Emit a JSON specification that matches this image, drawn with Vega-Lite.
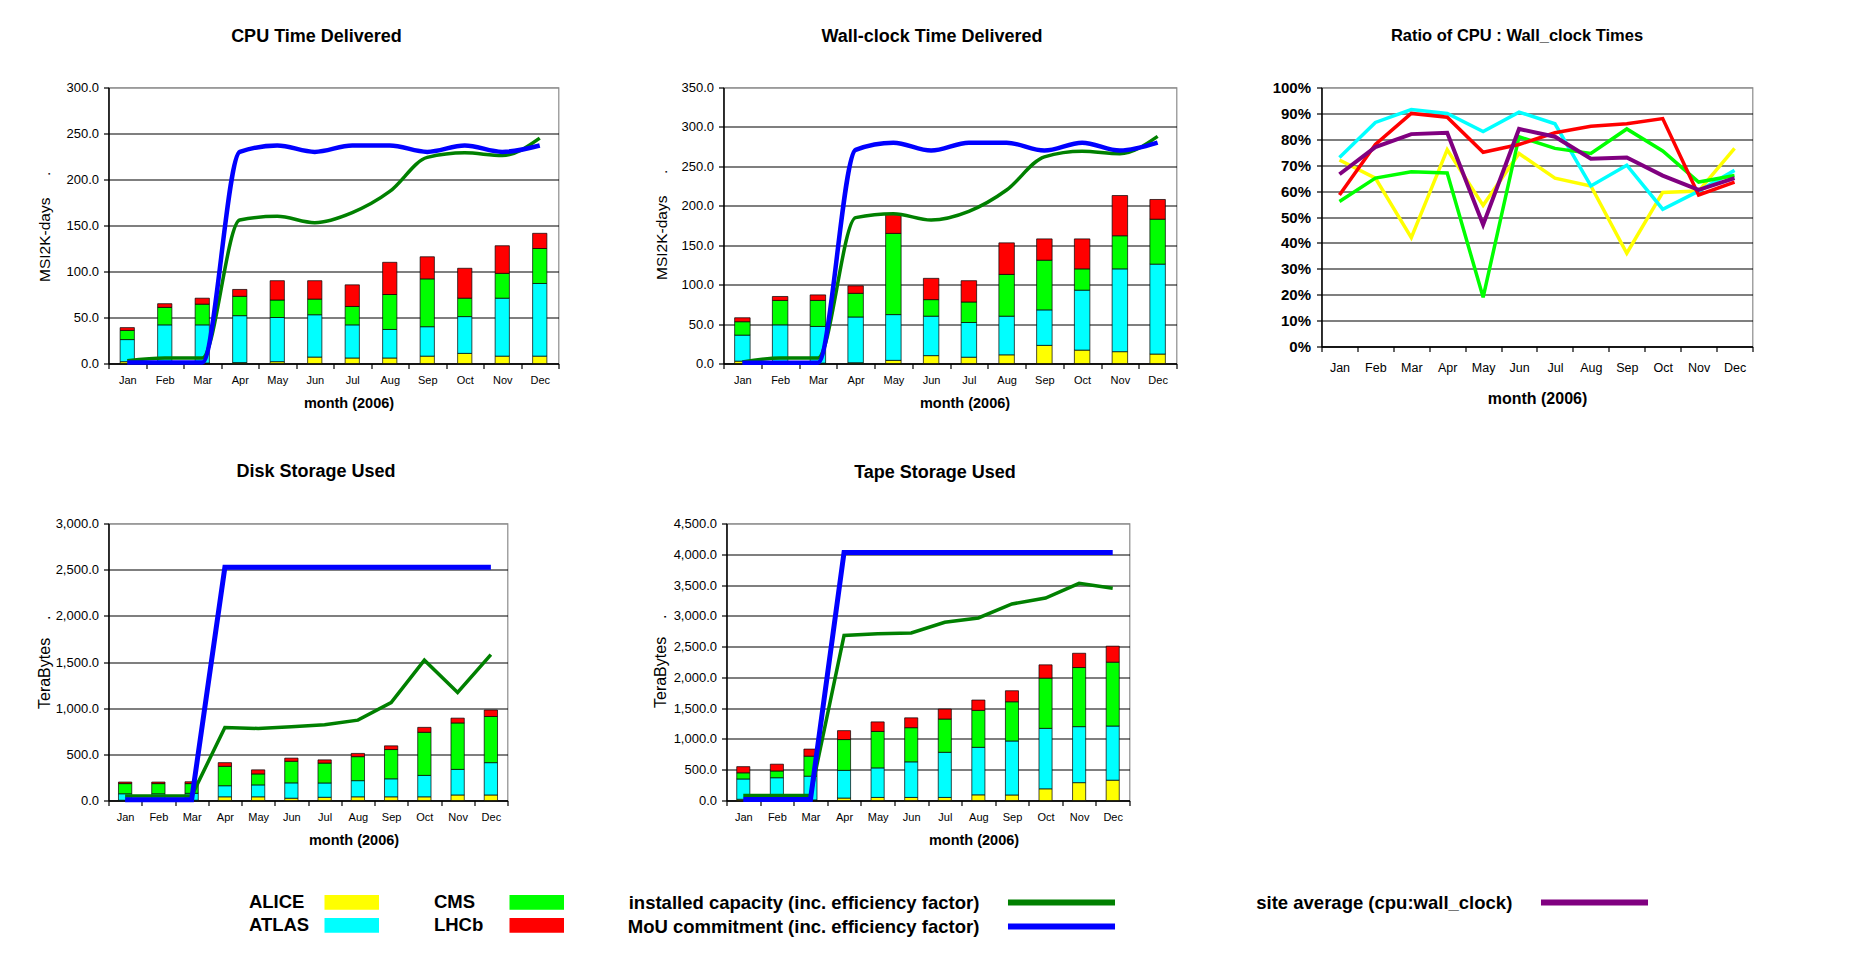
{
"$schema": "https://vega.github.io/schema/vega-lite/v6.json",
"background": "white",
"padding": {"left": 35.5, "top": 26.5, "right": 5, "bottom": 5},
"config": {
 "font": "Liberation Sans",
 "view": {"stroke": "#8c8c8c", "strokeWidth": 1.2},
 "axis": {"domainColor": "black", "domainWidth": 1.5, "tickColor": "black", "tickWidth": 1.2, "tickSize": 5, "labelColor": "black", "titleColor": "black", "labelFont": "Liberation Sans", "titleFont": "Liberation Sans", "gridWidth": 1.1},
 "axisX": {"grid": false, "labelAngle": 0},
 "axisY": {"tickCount": 50, "labelOverlap": false},
 "title": {"font": "Liberation Sans", "fontWeight": "bold", "color": "black", "anchor": "middle"},
 "legend": {"labelFont": "Liberation Sans", "labelColor": "black", "padding": 0}
},
"datasets": {
 "bars": [
  {"panel":"cpu","month":"Jan","ALICE":2,"ATLAS":24,"CMS":10,"LHCb":3},
  {"panel":"cpu","month":"Feb","ALICE":0.5,"ATLAS":41.5,"CMS":19,"LHCb":4},
  {"panel":"cpu","month":"Mar","ALICE":0.5,"ATLAS":41.5,"CMS":22.5,"LHCb":6.5},
  {"panel":"cpu","month":"Apr","ALICE":1,"ATLAS":51,"CMS":21,"LHCb":7.5},
  {"panel":"cpu","month":"May","ALICE":2,"ATLAS":48,"CMS":19,"LHCb":21},
  {"panel":"cpu","month":"Jun","ALICE":7,"ATLAS":46,"CMS":17,"LHCb":20},
  {"panel":"cpu","month":"Jul","ALICE":6,"ATLAS":36,"CMS":20,"LHCb":23.5},
  {"panel":"cpu","month":"Aug","ALICE":6,"ATLAS":31,"CMS":38,"LHCb":35},
  {"panel":"cpu","month":"Sep","ALICE":8,"ATLAS":32,"CMS":52,"LHCb":24},
  {"panel":"cpu","month":"Oct","ALICE":11,"ATLAS":40,"CMS":20,"LHCb":32.5},
  {"panel":"cpu","month":"Nov","ALICE":8,"ATLAS":63,"CMS":27,"LHCb":30},
  {"panel":"cpu","month":"Dec","ALICE":8,"ATLAS":79,"CMS":38,"LHCb":16.5},
  {"panel":"wall","month":"Jan","ALICE":3,"ATLAS":33,"CMS":17,"LHCb":5},
  {"panel":"wall","month":"Feb","ALICE":0.5,"ATLAS":48.5,"CMS":31,"LHCb":5},
  {"panel":"wall","month":"Mar","ALICE":0.5,"ATLAS":46.5,"CMS":33,"LHCb":7},
  {"panel":"wall","month":"Apr","ALICE":1,"ATLAS":58,"CMS":30,"LHCb":9.5},
  {"panel":"wall","month":"May","ALICE":4,"ATLAS":58,"CMS":103,"LHCb":25},
  {"panel":"wall","month":"Jun","ALICE":10,"ATLAS":50,"CMS":21,"LHCb":27},
  {"panel":"wall","month":"Jul","ALICE":8,"ATLAS":44,"CMS":26,"LHCb":27},
  {"panel":"wall","month":"Aug","ALICE":11,"ATLAS":49,"CMS":53,"LHCb":40},
  {"panel":"wall","month":"Sep","ALICE":23,"ATLAS":45,"CMS":63,"LHCb":27},
  {"panel":"wall","month":"Oct","ALICE":17,"ATLAS":76,"CMS":27,"LHCb":38},
  {"panel":"wall","month":"Nov","ALICE":15,"ATLAS":105,"CMS":42,"LHCb":51},
  {"panel":"wall","month":"Dec","ALICE":12,"ATLAS":114,"CMS":57,"LHCb":25},
  {"panel":"disk","month":"Jan","ALICE":3,"ATLAS":70,"CMS":110,"LHCb":17},
  {"panel":"disk","month":"Feb","ALICE":3,"ATLAS":70,"CMS":110,"LHCb":17},
  {"panel":"disk","month":"Mar","ALICE":3,"ATLAS":75,"CMS":105,"LHCb":20},
  {"panel":"disk","month":"Apr","ALICE":40,"ATLAS":120,"CMS":210,"LHCb":40},
  {"panel":"disk","month":"May","ALICE":40,"ATLAS":129,"CMS":119,"LHCb":44},
  {"panel":"disk","month":"Jun","ALICE":25,"ATLAS":166,"CMS":234,"LHCb":34},
  {"panel":"disk","month":"Jul","ALICE":35,"ATLAS":155,"CMS":215,"LHCb":35},
  {"panel":"disk","month":"Aug","ALICE":40,"ATLAS":175,"CMS":260,"LHCb":35},
  {"panel":"disk","month":"Sep","ALICE":40,"ATLAS":195,"CMS":317,"LHCb":40},
  {"panel":"disk","month":"Oct","ALICE":40,"ATLAS":232,"CMS":467,"LHCb":53},
  {"panel":"disk","month":"Nov","ALICE":60,"ATLAS":277,"CMS":503,"LHCb":52},
  {"panel":"disk","month":"Dec","ALICE":60,"ATLAS":350,"CMS":500,"LHCb":70},
  {"panel":"tape","month":"Jan","ALICE":20,"ATLAS":330,"CMS":100,"LHCb":100},
  {"panel":"tape","month":"Feb","ALICE":10,"ATLAS":360,"CMS":110,"LHCb":110},
  {"panel":"tape","month":"Mar","ALICE":10,"ATLAS":385,"CMS":325,"LHCb":115},
  {"panel":"tape","month":"Apr","ALICE":40,"ATLAS":450,"CMS":500,"LHCb":145},
  {"panel":"tape","month":"May","ALICE":50,"ATLAS":480,"CMS":592,"LHCb":155},
  {"panel":"tape","month":"Jun","ALICE":50,"ATLAS":578,"CMS":555,"LHCb":160},
  {"panel":"tape","month":"Jul","ALICE":50,"ATLAS":733,"CMS":540,"LHCb":162},
  {"panel":"tape","month":"Aug","ALICE":92,"ATLAS":772,"CMS":600,"LHCb":168},
  {"panel":"tape","month":"Sep","ALICE":90,"ATLAS":877,"CMS":637,"LHCb":179},
  {"panel":"tape","month":"Oct","ALICE":190,"ATLAS":982,"CMS":816,"LHCb":216},
  {"panel":"tape","month":"Nov","ALICE":290,"ATLAS":910,"CMS":960,"LHCb":232},
  {"panel":"tape","month":"Dec","ALICE":330,"ATLAS":880,"CMS":1037,"LHCb":260}
 ],
 "lines": [
  {"panel":"cpu","month":"Jan","installed":3,"MoU":1},
  {"panel":"cpu","month":"Feb","installed":6,"MoU":1},
  {"panel":"cpu","month":"Mar","installed":6,"MoU":1},
  {"panel":"cpu","month":"Apr","installed":156,"MoU":230},
  {"panel":"cpu","month":"May","installed":160,"MoU":237},
  {"panel":"cpu","month":"Jun","installed":153,"MoU":230},
  {"panel":"cpu","month":"Jul","installed":164,"MoU":237},
  {"panel":"cpu","month":"Aug","installed":187,"MoU":237},
  {"panel":"cpu","month":"Sep","installed":224,"MoU":230},
  {"panel":"cpu","month":"Oct","installed":229,"MoU":237},
  {"panel":"cpu","month":"Nov","installed":226,"MoU":230},
  {"panel":"cpu","month":"Dec","installed":245,"MoU":237},
  {"panel":"wall","month":"Jan","installed":2,"MoU":1},
  {"panel":"wall","month":"Feb","installed":7,"MoU":1},
  {"panel":"wall","month":"Mar","installed":7,"MoU":1},
  {"panel":"wall","month":"Apr","installed":185,"MoU":271},
  {"panel":"wall","month":"May","installed":190,"MoU":280},
  {"panel":"wall","month":"Jun","installed":182,"MoU":270},
  {"panel":"wall","month":"Jul","installed":193,"MoU":280},
  {"panel":"wall","month":"Aug","installed":220,"MoU":280},
  {"panel":"wall","month":"Sep","installed":262,"MoU":270},
  {"panel":"wall","month":"Oct","installed":269,"MoU":280},
  {"panel":"wall","month":"Nov","installed":266,"MoU":270},
  {"panel":"wall","month":"Dec","installed":288,"MoU":280},
  {"panel":"disk","month":"Jan","installed":50,"MoU":8},
  {"panel":"disk","month":"Feb","installed":50,"MoU":8},
  {"panel":"disk","month":"Mar","installed":50,"MoU":8},
  {"panel":"disk","month":"Apr","installed":790,"MoU":2525},
  {"panel":"disk","month":"May","installed":780,"MoU":2525},
  {"panel":"disk","month":"Jun","installed":800,"MoU":2525},
  {"panel":"disk","month":"Jul","installed":820,"MoU":2525},
  {"panel":"disk","month":"Aug","installed":870,"MoU":2525},
  {"panel":"disk","month":"Sep","installed":1060,"MoU":2525},
  {"panel":"disk","month":"Oct","installed":1520,"MoU":2525},
  {"panel":"disk","month":"Nov","installed":1170,"MoU":2525},
  {"panel":"disk","month":"Dec","installed":1580,"MoU":2525},
  {"panel":"tape","month":"Jan","installed":80,"MoU":15},
  {"panel":"tape","month":"Feb","installed":80,"MoU":15},
  {"panel":"tape","month":"Mar","installed":80,"MoU":15},
  {"panel":"tape","month":"Apr","installed":2680,"MoU":4030},
  {"panel":"tape","month":"May","installed":2707,"MoU":4030},
  {"panel":"tape","month":"Jun","installed":2723,"MoU":4030},
  {"panel":"tape","month":"Jul","installed":2896,"MoU":4030},
  {"panel":"tape","month":"Aug","installed":2966,"MoU":4030},
  {"panel":"tape","month":"Sep","installed":3193,"MoU":4030},
  {"panel":"tape","month":"Oct","installed":3290,"MoU":4030},
  {"panel":"tape","month":"Nov","installed":3528,"MoU":4030},
  {"panel":"tape","month":"Dec","installed":3447,"MoU":4030}
 ],
 "ratio": [
  {"month":"Jan","ALICE":0.72,"ATLAS":0.73,"CMS":0.56,"LHCb":0.585,"site average":0.665},
  {"month":"Feb","ALICE":0.65,"ATLAS":0.865,"CMS":0.65,"LHCb":0.78,"site average":0.77},
  {"month":"Mar","ALICE":0.42,"ATLAS":0.915,"CMS":0.675,"LHCb":0.9,"site average":0.82},
  {"month":"Apr","ALICE":0.76,"ATLAS":0.9,"CMS":0.67,"LHCb":0.885,"site average":0.825},
  {"month":"May","ALICE":0.545,"ATLAS":0.83,"CMS":0.19,"LHCb":0.75,"site average":0.47},
  {"month":"Jun","ALICE":0.745,"ATLAS":0.905,"CMS":0.81,"LHCb":0.78,"site average":0.84},
  {"month":"Jul","ALICE":0.65,"ATLAS":0.86,"CMS":0.765,"LHCb":0.825,"site average":0.81},
  {"month":"Aug","ALICE":0.62,"ATLAS":0.62,"CMS":0.745,"LHCb":0.85,"site average":0.725},
  {"month":"Sep","ALICE":0.36,"ATLAS":0.7,"CMS":0.84,"LHCb":0.86,"site average":0.73},
  {"month":"Oct","ALICE":0.595,"ATLAS":0.53,"CMS":0.755,"LHCb":0.88,"site average":0.66},
  {"month":"Nov","ALICE":0.6,"ATLAS":0.6,"CMS":0.635,"LHCb":0.585,"site average":0.605},
  {"month":"Dec","ALICE":0.765,"ATLAS":0.68,"CMS":0.66,"LHCb":0.635,"site average":0.65}
 ]
},
"spacing": 50,
"vconcat": [
 {"spacing": 93, "hconcat": [
  {"width": 450, "height": 276,
   "title": {"text": "CPU Time Delivered", "fontSize": 18, "offset": 22, "dx": -17, "baseline": "alphabetic", "frame": "group"},
   "layer": [
    {"data": {"name": "bars"}, "transform": [{"filter": "datum.panel == 'cpu'"}, {"fold": ["ALICE","ATLAS","CMS","LHCb"], "as": ["exp","value"]}],
     "mark": {"type": "bar", "width": {"band": 0.38}, "stroke": "black", "strokeWidth": 0.7},
     "encoding": {
      "x": {"field": "month", "type": "nominal", "sort": ["Jan","Feb","Mar","Apr","May","Jun","Jul","Aug","Sep","Oct","Nov","Dec"], "scale": {"type": "band", "paddingInner": 0, "paddingOuter": 0},
            "axis": {"title": "month (2006)", "titleFontSize": 14.5, "titleFontWeight": "bold", "titleX": 240, "titleY": 40, "titleBaseline": "middle", "titleAlign": "center", "labelFontSize": 11, "labelPadding": 6, "tickBand": "extent", "labelAngle": 0}},
      "y": {"field": "value", "type": "quantitative", "stack": "zero", "scale": {"domain": [0, 300], "nice": false},
            "axis": {"title": "MSI2K-days\u00a0\u00a0\u00a0\u00a0\u00a0.", "values": [0,50,100,150,200,250,300], "format": ".1f", "labelFontSize": 13, "labelPadding": 5, "titleFontSize": 15.5, "titleFontWeight": "normal", "titleAngle": 270, "titleAlign": "left", "titleBaseline": "middle", "titleX": -64, "titleY": 194, "gridColor": {"condition": {"test": "datum.index == 1", "value": "#8c8c8c"}, "value": "black"}}},
      "color": {"field": "exp", "type": "nominal", "scale": {"domain": ["ALICE","ATLAS","CMS","LHCb"], "range": ["#FFFF00","#00FFFF","#00FF00","#FF0000"]},
                "legend": {"orient": "none", "legendX": 234, "legendY": 805.6, "direction": "horizontal", "columns": 2, "values": ["ALICE","CMS","ATLAS","LHCb"], "title": null, "symbolType": "M-4,-1H4V1H-4Z", "symbolSize": 175.6, "symbolStrokeColor": "black", "symbolStrokeWidth": 1.5, "symbolOpacity": 1, "labelFontSize": 18.5, "labelFontWeight": "bold", "labelAlign": "left", "labelOffset": -112.1, "columnPadding": 52, "rowPadding": 3, "labelLimit": 1000}},
      "order": {"field": "exp", "type": "ordinal", "sort": "ascending"}
     }},
    {"data": {"name": "lines"}, "transform": [{"filter": "datum.panel == 'cpu'"}, {"fold": ["installed"], "as": ["series","value"]}],
     "mark": {"type": "line", "strokeWidth": 3.5, "interpolate": "monotone"},
     "encoding": {"x": {"field": "month", "type": "nominal", "sort": ["Jan","Feb","Mar","Apr","May","Jun","Jul","Aug","Sep","Oct","Nov","Dec"]}, "y": {"field": "value", "type": "quantitative"},
      "stroke": {"field": "series", "type": "nominal", "scale": {"domain": ["installed","MoU","site average"], "range": ["#008000","#0000FF","#800080"]},
                 "legend": {"orient": "none", "legendX": 943, "legendY": 805, "direction": "horizontal", "columns": 2, "values": ["installed","site average","MoU"], "title": null, "symbolType": "M-8,0H8", "symbolSize": 179, "symbolStrokeWidth": 6, "labelFontSize": 18.5, "labelFontWeight": "bold", "labelAlign": "right", "labelOffset": -92.2, "columnPadding": 128, "rowPadding": 0, "labelLimit": 1000, "labelExpr": "datum.label == 'installed' ? 'installed capacity (inc. efficiency factor)' : datum.label == 'MoU' ? 'MoU commitment (inc. efficiency factor)' : 'site average (cpu:wall_clock)'"}}}},
    {"data": {"name": "lines"}, "transform": [{"filter": "datum.panel == 'cpu'"}, {"fold": ["MoU"], "as": ["series","value"]}],
     "mark": {"type": "line", "strokeWidth": 4.5, "interpolate": "monotone"},
     "encoding": {"x": {"field": "month", "type": "nominal", "sort": ["Jan","Feb","Mar","Apr","May","Jun","Jul","Aug","Sep","Oct","Nov","Dec"]}, "y": {"field": "value", "type": "quantitative"},
      "stroke": {"field": "series", "type": "nominal"}}}
   ]},
  {"width": 453, "height": 276,
   "title": {"text": "Wall-clock Time Delivered", "fontSize": 18, "offset": 22, "dx": -18, "baseline": "alphabetic", "frame": "group"},
   "layer": [
    {"data": {"name": "bars"}, "transform": [{"filter": "datum.panel == 'wall'"}, {"fold": ["ALICE","ATLAS","CMS","LHCb"], "as": ["exp","value"]}],
     "mark": {"type": "bar", "width": {"band": 0.41}, "stroke": "black", "strokeWidth": 0.7},
     "encoding": {
      "x": {"field": "month", "type": "nominal", "sort": ["Jan","Feb","Mar","Apr","May","Jun","Jul","Aug","Sep","Oct","Nov","Dec"], "scale": {"type": "band", "paddingInner": 0, "paddingOuter": 0},
            "axis": {"title": "month (2006)", "titleFontSize": 14.5, "titleFontWeight": "bold", "titleX": 241, "titleY": 40, "titleBaseline": "middle", "titleAlign": "center", "labelFontSize": 11, "labelPadding": 6, "tickBand": "extent", "labelAngle": 0}},
      "y": {"field": "value", "type": "quantitative", "stack": "zero", "scale": {"domain": [0, 350], "nice": false},
            "axis": {"title": "MSI2K-days\u00a0\u00a0\u00a0\u00a0\u00a0.", "values": [0,50,100,150,200,250,300,350], "tickCount": 50, "format": ".1f", "labelFontSize": 13, "labelPadding": 5, "titleFontSize": 15.5, "titleFontWeight": "normal", "titleAngle": 270, "titleAlign": "left", "titleBaseline": "middle", "titleX": -62, "titleY": 192, "gridColor": {"condition": {"test": "datum.index == 1", "value": "#8c8c8c"}, "value": "black"}}},
      "color": {"field": "exp", "type": "nominal"},
      "order": {"field": "exp", "type": "ordinal", "sort": "ascending"}
     }},
    {"data": {"name": "lines"}, "transform": [{"filter": "datum.panel == 'wall'"}, {"fold": ["installed"], "as": ["series","value"]}],
     "mark": {"type": "line", "strokeWidth": 3.5, "interpolate": "monotone"},
     "encoding": {"x": {"field": "month", "type": "nominal", "sort": ["Jan","Feb","Mar","Apr","May","Jun","Jul","Aug","Sep","Oct","Nov","Dec"]}, "y": {"field": "value", "type": "quantitative"}, "stroke": {"field": "series", "type": "nominal"}}},
    {"data": {"name": "lines"}, "transform": [{"filter": "datum.panel == 'wall'"}, {"fold": ["MoU"], "as": ["series","value"]}],
     "mark": {"type": "line", "strokeWidth": 4.5, "interpolate": "monotone"},
     "encoding": {"x": {"field": "month", "type": "nominal", "sort": ["Jan","Feb","Mar","Apr","May","Jun","Jul","Aug","Sep","Oct","Nov","Dec"]}, "y": {"field": "value", "type": "quantitative"}, "stroke": {"field": "series", "type": "nominal"}}}
   ]},
  {"width": 431, "height": 259,
   "title": {"text": "Ratio of CPU : Wall_clock Times", "fontSize": 16.5, "offset": 23, "dx": -20, "baseline": "alphabetic", "frame": "group"},
   "data": {"name": "ratio"},
   "layer": [
    {"transform": [{"fold": ["ALICE","ATLAS","CMS","LHCb"], "as": ["exp","value"]}],
     "mark": {"type": "line", "strokeWidth": 3.5},
     "encoding": {
      "x": {"field": "month", "type": "nominal", "sort": ["Jan","Feb","Mar","Apr","May","Jun","Jul","Aug","Sep","Oct","Nov","Dec"], "scale": {"type": "band", "paddingInner": 0, "paddingOuter": 0},
            "axis": {"title": "month (2006)", "titleFontSize": 16, "titleFontWeight": "bold", "titleY": 51.5, "titleBaseline": "middle", "labelFontSize": 12.5, "labelPadding": 10, "tickBand": "extent", "labelAngle": 0}},
      "y": {"field": "value", "type": "quantitative", "scale": {"domain": [0, 1], "nice": false},
            "axis": {"title": null, "values": [0,0.1,0.2,0.3,0.4,0.5,0.6,0.7,0.8,0.9,1], "tickCount": 50, "format": ".0%", "labelFontSize": 15, "labelFontWeight": "bold", "labelPadding": 6, "gridColor": {"condition": {"test": "datum.index == 1", "value": "#8c8c8c"}, "value": "black"}}},
      "color": {"field": "exp", "type": "nominal", "legend": null}
     }},
    {"transform": [{"fold": ["site average"], "as": ["series","value"]}],
     "mark": {"type": "line", "strokeWidth": 4},
     "encoding": {"x": {"field": "month", "type": "nominal", "sort": ["Jan","Feb","Mar","Apr","May","Jun","Jul","Aug","Sep","Oct","Nov","Dec"]}, "y": {"field": "value", "type": "quantitative"}, "stroke": {"field": "series", "type": "nominal"}}}
   ]}
 ]},
 {"spacing": 142, "hconcat": [
  {"width": 399, "height": 277,
   "title": {"text": "Disk Storage Used", "fontSize": 18, "offset": 22.5, "dx": 8, "baseline": "alphabetic", "frame": "group"},
   "layer": [
    {"data": {"name": "bars"}, "transform": [{"filter": "datum.panel == 'disk'"}, {"fold": ["ALICE","ATLAS","CMS","LHCb"], "as": ["exp","value"]}],
     "mark": {"type": "bar", "width": {"band": 0.4}, "stroke": "black", "strokeWidth": 0.7},
     "encoding": {
      "x": {"field": "month", "type": "nominal", "sort": ["Jan","Feb","Mar","Apr","May","Jun","Jul","Aug","Sep","Oct","Nov","Dec"], "scale": {"type": "band", "paddingInner": 0, "paddingOuter": 0},
            "axis": {"title": "month (2006)", "titleFontSize": 14.5, "titleFontWeight": "bold", "titleX": 245, "titleY": 40, "titleBaseline": "middle", "titleAlign": "center", "labelFontSize": 11, "labelPadding": 6, "tickBand": "extent", "labelAngle": 0}},
      "y": {"field": "value", "type": "quantitative", "stack": "zero", "scale": {"domain": [0, 3000], "nice": false},
            "axis": {"title": "TeraBytes\u00a0\u00a0\u00a0\u00a0.", "values": [0,500,1000,1500,2000,2500,3000], "tickCount": 50, "format": ",.1f", "labelFontSize": 13, "labelPadding": 5, "titleFontSize": 16, "titleFontWeight": "normal", "titleAngle": 270, "titleAlign": "left", "titleBaseline": "middle", "titleX": -64, "titleY": 185, "gridColor": {"condition": {"test": "datum.index == 1", "value": "#8c8c8c"}, "value": "black"}}},
      "color": {"field": "exp", "type": "nominal"},
      "order": {"field": "exp", "type": "ordinal", "sort": "ascending"}
     }},
    {"data": {"name": "lines"}, "transform": [{"filter": "datum.panel == 'disk'"}, {"fold": ["installed"], "as": ["series","value"]}],
     "mark": {"type": "line", "strokeWidth": 3.5},
     "encoding": {"x": {"field": "month", "type": "nominal", "sort": ["Jan","Feb","Mar","Apr","May","Jun","Jul","Aug","Sep","Oct","Nov","Dec"]}, "y": {"field": "value", "type": "quantitative"}, "stroke": {"field": "series", "type": "nominal"}}},
    {"data": {"name": "lines"}, "transform": [{"filter": "datum.panel == 'disk'"}, {"fold": ["MoU"], "as": ["series","value"]}],
     "mark": {"type": "line", "strokeWidth": 5},
     "encoding": {"x": {"field": "month", "type": "nominal", "sort": ["Jan","Feb","Mar","Apr","May","Jun","Jul","Aug","Sep","Oct","Nov","Dec"]}, "y": {"field": "value", "type": "quantitative"}, "stroke": {"field": "series", "type": "nominal"}}}
   ]},
  {"width": 403, "height": 277,
   "title": {"text": "Tape Storage Used", "fontSize": 18, "offset": 22, "dx": 7, "baseline": "alphabetic", "frame": "group"},
   "layer": [
    {"data": {"name": "bars"}, "transform": [{"filter": "datum.panel == 'tape'"}, {"fold": ["ALICE","ATLAS","CMS","LHCb"], "as": ["exp","value"]}],
     "mark": {"type": "bar", "width": {"band": 0.39}, "stroke": "black", "strokeWidth": 0.7},
     "encoding": {
      "x": {"field": "month", "type": "nominal", "sort": ["Jan","Feb","Mar","Apr","May","Jun","Jul","Aug","Sep","Oct","Nov","Dec"], "scale": {"type": "band", "paddingInner": 0, "paddingOuter": 0},
            "axis": {"title": "month (2006)", "titleFontSize": 14.5, "titleFontWeight": "bold", "titleX": 247, "titleY": 40, "titleBaseline": "middle", "titleAlign": "center", "labelFontSize": 11, "labelPadding": 6, "tickBand": "extent", "labelAngle": 0}},
      "y": {"field": "value", "type": "quantitative", "stack": "zero", "scale": {"domain": [0, 4500], "nice": false},
            "axis": {"title": "TeraBytes\u00a0\u00a0\u00a0\u00a0.", "values": [0,500,1000,1500,2000,2500,3000,3500,4000,4500], "tickCount": 50, "format": ",.1f", "labelFontSize": 13, "labelPadding": 5, "titleFontSize": 16, "titleFontWeight": "normal", "titleAngle": 270, "titleAlign": "left", "titleBaseline": "middle", "titleX": -66, "titleY": 184, "gridColor": {"condition": {"test": "datum.index == 1", "value": "#8c8c8c"}, "value": "black"}}},
      "color": {"field": "exp", "type": "nominal"},
      "order": {"field": "exp", "type": "ordinal", "sort": "ascending"}
     }},
    {"data": {"name": "lines"}, "transform": [{"filter": "datum.panel == 'tape'"}, {"fold": ["installed"], "as": ["series","value"]}],
     "mark": {"type": "line", "strokeWidth": 3.5},
     "encoding": {"x": {"field": "month", "type": "nominal", "sort": ["Jan","Feb","Mar","Apr","May","Jun","Jul","Aug","Sep","Oct","Nov","Dec"]}, "y": {"field": "value", "type": "quantitative"}, "stroke": {"field": "series", "type": "nominal"}}},
    {"data": {"name": "lines"}, "transform": [{"filter": "datum.panel == 'tape'"}, {"fold": ["MoU"], "as": ["series","value"]}],
     "mark": {"type": "line", "strokeWidth": 5},
     "encoding": {"x": {"field": "month", "type": "nominal", "sort": ["Jan","Feb","Mar","Apr","May","Jun","Jul","Aug","Sep","Oct","Nov","Dec"]}, "y": {"field": "value", "type": "quantitative"}, "stroke": {"field": "series", "type": "nominal"}}}
   ]}
 ]}
]
}
